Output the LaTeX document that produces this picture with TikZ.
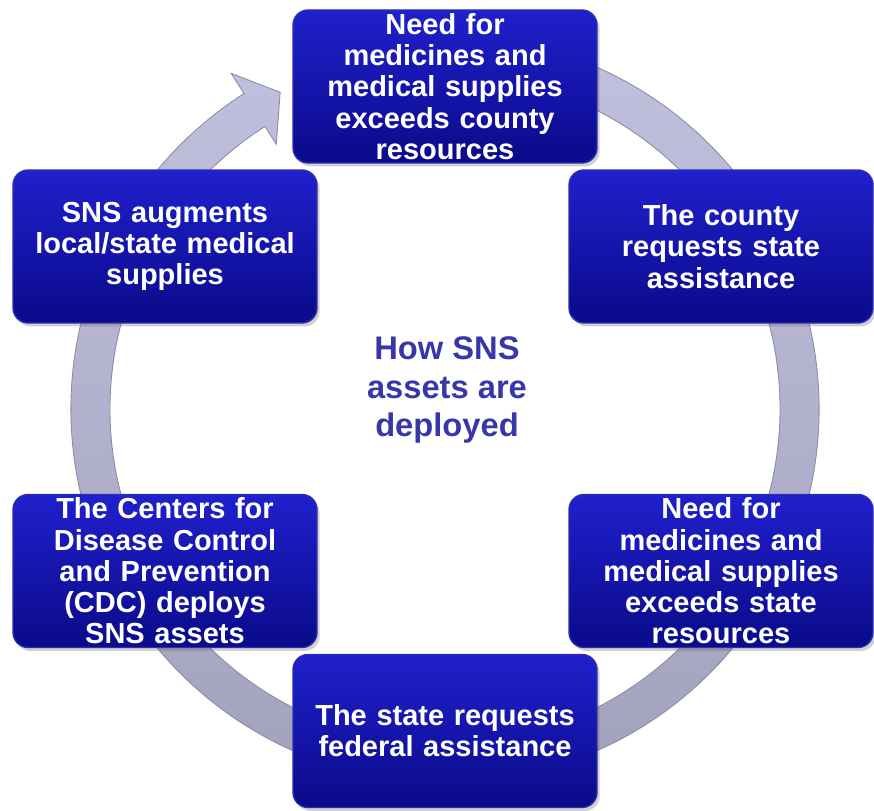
\documentclass[tikz,border=0pt]{standalone}
\usepackage{fontspec}
\setmainfont{Liberation Sans}
\usetikzlibrary{positioning, shadows}
\definecolor{boxtop}{RGB}{32,32,205}
\definecolor{boxbot}{RGB}{10,10,138}
\definecolor{boxedge}{RGB}{45,45,175}
\definecolor{ringtop}{RGB}{192,192,222}
\definecolor{ringbot}{RGB}{160,160,186}
\definecolor{ringedge}{RGB}{140,140,165}
\definecolor{hubtext}{RGB}{55,55,170}

\begin{document}
\begin{tikzpicture}[x=0.02cm, y=0.02cm,
    stepbox/.style={rounded corners=0.3cm, minimum width=6.08cm, minimum height=3.06cm,
        text width=5.9cm, align=center, inner sep=0pt,
        top color=boxtop, bottom color=boxbot, draw=boxedge, line width=0.8pt,
        text=white, font=\fontsize{16.5}{17.8}\selectfont\bfseries,
        drop shadow={shadow xshift=1.5pt, shadow yshift=-2pt, opacity=0.3, fill=black!60}},
    hub/.style={align=center, text=hubtext, font=\fontsize{18.6}{21.8}\selectfont\bfseries}]
    \useasboundingbox (0,0) rectangle (874,810);
    \coordinate (O) at (445,401);
    \path[top color=ringtop, bottom color=ringbot, draw=ringedge, line width=0.5pt]
        ([shift={(O)}]70:374) arc[start angle=70, end angle=-237.5, radius=374]
        -- ([shift={(O)}]122.5:398) -- ([shift={(O)}]117.5:357)
        -- ([shift={(O)}]122.5:314) -- ([shift={(O)}]122.5:335)
        arc[start angle=-237.5, end angle=70, radius=335] -- cycle;
    \node[stepbox] (county) at (445,723.5) {Need for\\ medicines and\\ medical supplies\\ exceeds county\\ resources};
    \node[stepbox] (request) at (721,563.5) {The county\\ requests state\\ assistance};
    \node[stepbox] (state) at (721,239) {Need for\\ medicines and\\ medical supplies\\ exceeds state\\ resources};
    \node[stepbox] (federal) at (445,79) {The state requests\\ federal assistance};
    \node[stepbox] (cdc) at (165,239) {The Centers for\\ Disease Control\\ and Prevention\\ (CDC) deploys\\ SNS assets};
    \node[stepbox] (augment) at (165,563.5) {SNS augments\\ local/state medical\\ supplies};
    \node[hub] (how) at (447,420) {How SNS\\ assets are\\ deployed};
\end{tikzpicture}
\end{document}
